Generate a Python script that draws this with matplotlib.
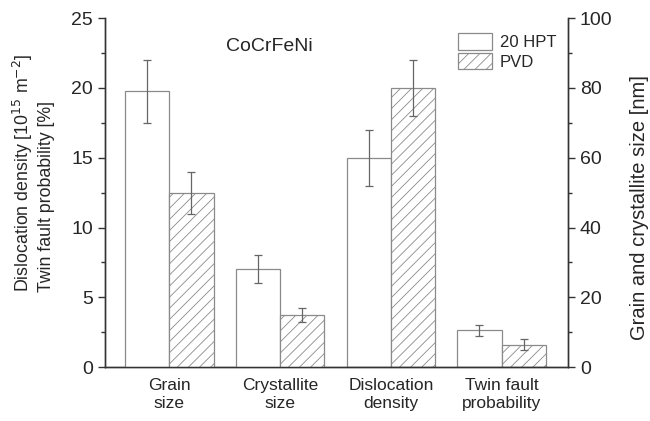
import numpy as np
import matplotlib.pyplot as plt
from matplotlib.ticker import MultipleLocator

plt.rcParams['font.family'] = ['Liberation Sans', 'DejaVu Sans']
plt.rcParams['hatch.color'] = '#808080'
plt.rcParams['hatch.linewidth'] = 0.6

categories = ['Grain\nsize', 'Crystallite\nsize', 'Dislocation\ndensity', 'Twin fault\nprobability']

# grain / crystallite size in nm (right axis)
size_hpt = [79, 28]
size_hpt_err = [9, 4]
size_pvd = [50, 15]
size_pvd_err = [6, 2]

# dislocation density [1e15 m^-2] and twin fault probability [%] (left axis)
disl_twin_hpt = [15, 2.65]
disl_twin_hpt_err = [2, 0.4]
disl_twin_pvd = [20, 1.6]
disl_twin_pvd_err = [2, 0.4]

txt = '#262626'
edge = '#8a8a8a'
w = 0.4

fig = plt.figure(figsize=(6.5, 4.21), dpi=100)
ax = fig.add_axes([0.1615, 0.128, 0.7125, 0.829])
ax2 = ax.twinx()

x = np.arange(len(categories))
ekw = dict(ecolor='#666666', elinewidth=0.9, capsize=3, capthick=0.9)

# size bars on the nm axis
ax2.bar(x[:2] - w/2, size_hpt, w, yerr=size_hpt_err, color='white', edgecolor=edge,
        linewidth=0.9, error_kw=ekw, label='20 HPT')
ax2.bar(x[:2] + w/2, size_pvd, w, yerr=size_pvd_err, color='white', edgecolor=edge,
        linewidth=0.9, hatch='///', error_kw=ekw, label='PVD')

# density / twin bars on the left axis
ax.bar(x[2:] - w/2, disl_twin_hpt, w, yerr=disl_twin_hpt_err, color='white', edgecolor=edge,
       linewidth=0.9, error_kw=ekw)
ax.bar(x[2:] + w/2, disl_twin_pvd, w, yerr=disl_twin_pvd_err, color='white', edgecolor=edge,
       linewidth=0.9, hatch='///', error_kw=ekw)

ax.set_xlim(-0.58, 3.6)
ax.set_ylim(0, 25)
ax2.set_ylim(0, 100)
ax.yaxis.set_major_locator(MultipleLocator(5))
ax.yaxis.set_minor_locator(MultipleLocator(2.5))
ax2.yaxis.set_major_locator(MultipleLocator(20))
ax2.yaxis.set_minor_locator(MultipleLocator(10))

ax.set_xticks(x)
ax.set_xticklabels(categories, fontsize=12.5, color=txt)
ax.tick_params(axis='x', length=0, pad=8)
for a in (ax, ax2):
    a.spines['top'].set_visible(False)
    for s in a.spines.values():
        s.set_color('#333333')
        s.set_linewidth(1.0)
    a.tick_params(axis='y', which='major', length=5, width=1.0, labelsize=14,
                  labelcolor=txt, color='#333333')
    a.tick_params(axis='y', which='minor', length=3, width=1.0, color='#333333')

# axis titles
fig.text(0.051, 0.306, 'Dislocation density [10$^{15}$ m$^{-2}$]\nTwin fault probability [%]',
         rotation=90, ha='center', va='bottom', multialignment='left',
         fontsize=12.8, color=txt, linespacing=1.25)
fig.text(0.984, 0.506, 'Grain and crystallite size [nm]', rotation=90,
         ha='center', va='center', fontsize=14.5, color=txt)

ax.text(0.261, 0.905, 'CoCrFeNi', transform=ax.transAxes, fontsize=14, color=txt)

leg = ax2.legend(loc='upper right', bbox_to_anchor=(1.0, 0.99), frameon=False,
                 fontsize=12, handlelength=2.05, handleheight=1.15, handletextpad=0.45,
                 labelspacing=0.15, borderaxespad=0.3)
for t in leg.get_texts():
    t.set_color(txt)

fig.savefig('out.png', dpi=100)
